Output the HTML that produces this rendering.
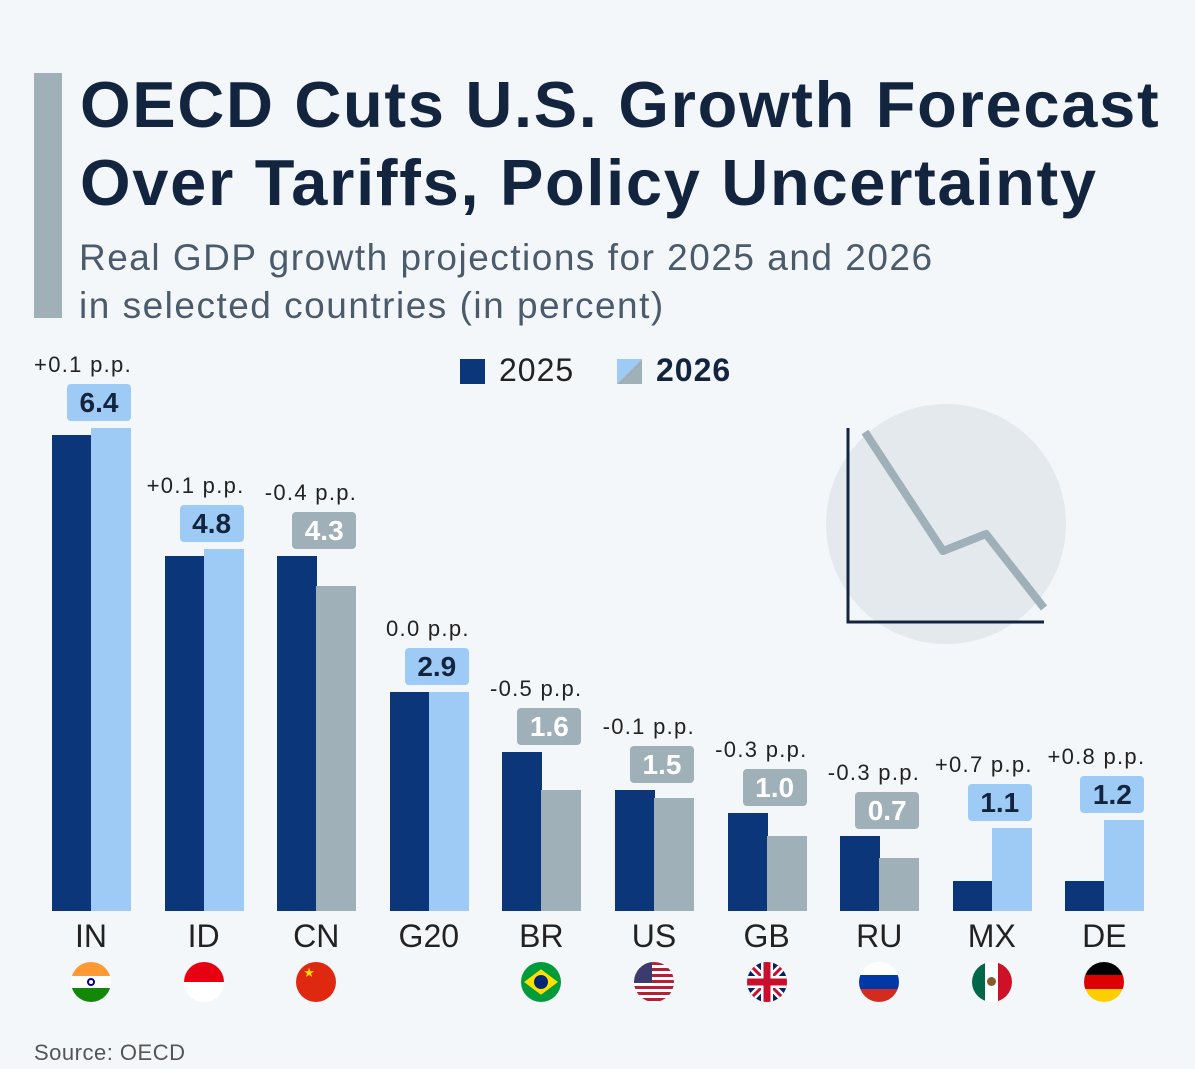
<!DOCTYPE html>
<html><head><meta charset="utf-8"><style>
body{margin:0;width:1195px;height:1069px;background:#f4f7fa;font-family:"Liberation Sans","DejaVu Sans",sans-serif;position:relative;overflow:hidden}
.a{position:absolute}
.t{left:80px;top:66px;font-size:65px;font-weight:bold;color:#13243f;line-height:78px;letter-spacing:1.7px;white-space:nowrap}
.s{left:79px;top:234px;font-size:37px;color:#4b5b6b;line-height:48px;letter-spacing:1.5px;white-space:nowrap}
.bar{position:absolute;width:40px}
.d{background:#0b377a}.l{background:#9ecbf5}.g{background:#9fb0b8}
.box{position:absolute;width:64px;height:37px;border-radius:4px;font-size:28px;font-weight:bold;text-align:center;line-height:37px;color:#13243f}
.box.g{color:#fff}
.pp{position:absolute;font-size:22px;color:#222;text-align:right;width:140px;letter-spacing:1.3px}
.cl{position:absolute;top:918px;font-size:32px;color:#222;text-align:center;width:112px}
.fl{position:absolute;top:962px;width:40px;height:40px;border-radius:50%;overflow:hidden}
</style></head><body>
<div class="a" style="left:34px;top:73px;width:28px;height:245px;background:#9fb0b8"></div>
<div class="a t">OECD Cuts U.S. Growth Forecast<br>Over Tariffs, Policy Uncertainty</div>
<div class="a s">Real GDP growth projections for 2025 and 2026<br>in selected countries (in percent)</div>
<div class="a" style="left:460px;top:359px;width:25px;height:25px;background:#0b377a"></div>
<div class="a" style="left:499px;top:352px;font-size:32px;color:#222;letter-spacing:1px">2025</div>
<svg class="a" style="left:617px;top:359px" width="25" height="25"><polygon points="0,25 25,0 0,0" fill="#9ecbf5"/><polygon points="0,25 25,0 25,25" fill="#9fb0b8"/></svg>
<div class="a" style="left:656px;top:352px;font-size:32px;font-weight:bold;color:#13243f;letter-spacing:1px">2026</div>
<svg class="a" style="left:820px;top:400px" width="250" height="250"><circle cx="126" cy="124" r="120" fill="#e3e9ec"/><polyline points="28,28 28,222 224,222" fill="none" stroke="#13243f" stroke-width="3"/><polyline points="45,32 123,151 166,134 224,208" fill="none" stroke="#9fb0b8" stroke-width="8" stroke-linejoin="round"/></svg>
<div id="c"></div>
<div class="a" style="left:34px;top:1040px;font-size:22px;color:#555;letter-spacing:0.5px">Source: OECD</div>
<script>
var d=[["IN",6.3,6.4,"+0.1","l"],["ID",4.7,4.8,"+0.1","l"],["CN",4.7,4.3,"-0.4","g"],["G20",2.9,2.9,"0.0","l"],["BR",2.1,1.6,"-0.5","g"],["US",1.6,1.5,"-0.1","g"],["GB",1.3,1.0,"-0.3","g"],["RU",1.0,0.7,"-0.3","g"],["MX",0.4,1.1,"+0.7","l"],["DE",0.4,1.2,"+0.8","l"]];
var fl={IN:'<div style="height:14px;background:#f93"></div><div style="height:12px;background:#fff;position:relative"><div style="position:absolute;left:16px;top:0;width:8px;height:8px;border:2px solid #008;border-radius:50%;box-sizing:border-box;top:2px"></div></div><div style="height:14px;background:#138808"></div>',
ID:'<div style="height:20px;background:#e70011"></div><div style="height:20px;background:#fff"></div>',
CN:'<div style="height:40px;background:#de2910;color:#ffde00;font-size:13px;padding-left:7px;line-height:22px">★</div>',
BR:'<div style="height:40px;background:#009c3b;position:relative"><div style="position:absolute;left:8px;top:8px;width:24px;height:24px;background:#ffdf00;transform:scale(1,0.75) rotate(45deg)"></div><div style="position:absolute;left:13px;top:13px;width:14px;height:14px;border-radius:50%;background:#002776"></div></div>',
US:'<div style="height:40px;background:repeating-linear-gradient(#b22234 0 3px,#fff 3px 6px);position:relative"><div style="position:absolute;left:0;top:0;width:18px;height:21px;background:#3c3b6e"></div></div>',
GB:'<svg width="40" height="40"><rect width="40" height="40" fill="#012169"/><path d="M0,0L40,40M40,0L0,40" stroke="#fff" stroke-width="8"/><path d="M0,0L40,40M40,0L0,40" stroke="#c8102e" stroke-width="3"/><path d="M20,0V40M0,20H40" stroke="#fff" stroke-width="12"/><path d="M20,0V40M0,20H40" stroke="#c8102e" stroke-width="7"/></svg>',
RU:'<div style="height:13px;background:#fff"></div><div style="height:14px;background:#0039a6"></div><div style="height:13px;background:#d52b1e"></div>',
MX:'<div style="display:flex;height:40px"><div style="flex:1;background:#006847"></div><div style="flex:1;background:#fff;position:relative"><div style="position:absolute;left:2px;top:15px;width:9px;height:9px;border-radius:50%;background:#8a5a2b"></div></div><div style="flex:1;background:#ce1126"></div></div>',
DE:'<div style="height:13px;background:#000"></div><div style="height:14px;background:#dd0000"></div><div style="height:13px;background:#ffce00"></div>'};
var h="",B=911,k=75.5;
d.forEach(function(r,i){var x=52+i*112.6;var t1=B-r[1]*k,t2=B-r[2]*k;
h+='<div class="bar d" style="left:'+x+'px;top:'+t1+'px;height:'+(B-t1)+'px"></div>';
h+='<div class="bar '+r[4]+'" style="left:'+(x+39)+'px;top:'+t2+'px;height:'+(B-t2)+'px"></div>';
var bt=Math.min(t1,t2)-44;
h+='<div class="box '+r[4]+'" style="left:'+(x+15)+'px;top:'+bt+'px">'+r[2].toFixed(1)+'</div>';
h+='<div class="pp" style="left:'+(x-60)+'px;top:'+(bt-32)+'px">'+r[3]+' p.p.</div>';
h+='<div class="cl" style="left:'+(x-17)+'px">'+r[0]+'</div>';
if(fl[r[0]])h+='<div class="fl" style="left:'+(x+19)+'px">'+fl[r[0]]+'</div>';});
document.getElementById("c").innerHTML=h;
</script>
</body></html>
